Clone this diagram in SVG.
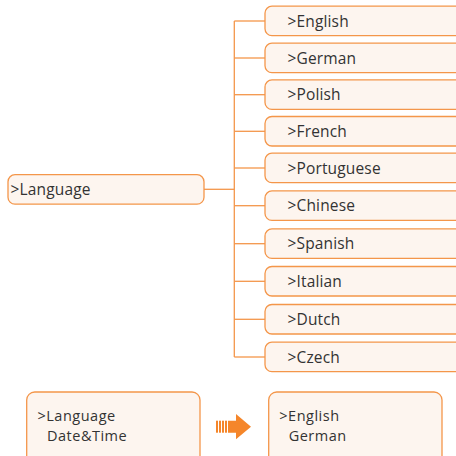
<svg xmlns="http://www.w3.org/2000/svg" width="456" height="456" viewBox="0 0 456 456">
<style>
.box{fill:#FDF5EF;stroke:#F4964A;stroke-width:1.3}
.t{font-family:"Open Sans","Liberation Sans",sans-serif;font-size:15.5px;letter-spacing:0.15px;fill:#333333}
.s{font-size:14.5px;letter-spacing:0.5px}
.ln{stroke:#F4964A;stroke-width:1.3;fill:none}
</style>
<g id="connectors">
<line class="ln" x1="204" y1="189.3" x2="234.3" y2="189.3"/>
<line class="ln" x1="234.3" y1="21" x2="234.3" y2="357"/>
<line class="ln" x1="234.3" y1="21" x2="265" y2="21"/>
<line class="ln" x1="234.3" y1="58" x2="265" y2="58"/>
<line class="ln" x1="234.3" y1="94.7" x2="265" y2="94.7"/>
<line class="ln" x1="234.3" y1="131.3" x2="265" y2="131.3"/>
<line class="ln" x1="234.3" y1="168" x2="265" y2="168"/>
<line class="ln" x1="234.3" y1="205.7" x2="265" y2="205.7"/>
<line class="ln" x1="234.3" y1="243.7" x2="265" y2="243.7"/>
<line class="ln" x1="234.3" y1="281.3" x2="265" y2="281.3"/>
<line class="ln" x1="234.3" y1="319.3" x2="265" y2="319.3"/>
<line class="ln" x1="234.3" y1="357" x2="265" y2="357"/>
</g>
<g id="language">
<rect class="box" x="8" y="174.7" width="196" height="29.5" rx="7"/>
<text class="t" x="10.5" y="195">&gt;Language</text>
</g>
<g id="english"><rect class="box" x="265" y="6.2" width="200" height="29.5" rx="7"/><text class="t" x="287.5" y="26.5">&gt;English</text></g>
<g id="german"><rect class="box" x="265" y="43.2" width="200" height="29.5" rx="7"/><text class="t" x="287.5" y="63.5">&gt;German</text></g>
<g id="polish"><rect class="box" x="265" y="79.9" width="200" height="29.5" rx="7"/><text class="t" x="287.5" y="100.2">&gt;Polish</text></g>
<g id="french"><rect class="box" x="265" y="116.5" width="200" height="29.5" rx="7"/><text class="t" x="287.5" y="136.8">&gt;French</text></g>
<g id="portuguese"><rect class="box" x="265" y="153.2" width="200" height="29.5" rx="7"/><text class="t" x="287.5" y="173.5">&gt;Portuguese</text></g>
<g id="chinese"><rect class="box" x="265" y="190.9" width="200" height="29.5" rx="7"/><text class="t" x="287.5" y="211.2">&gt;Chinese</text></g>
<g id="spanish"><rect class="box" x="265" y="228.9" width="200" height="29.5" rx="7"/><text class="t" x="287.5" y="249.2">&gt;Spanish</text></g>
<g id="italian"><rect class="box" x="265" y="266.5" width="200" height="29.5" rx="7"/><text class="t" x="287.5" y="286.8">&gt;Italian</text></g>
<g id="dutch"><rect class="box" x="265" y="304.5" width="200" height="29.5" rx="7"/><text class="t" x="287.5" y="324.8">&gt;Dutch</text></g>
<g id="czech"><rect class="box" x="265" y="342.2" width="200" height="29.5" rx="7"/><text class="t" x="287.5" y="362.5">&gt;Czech</text></g>
<g id="menu-screen">
<rect class="box" x="26.7" y="392" width="173.3" height="80" rx="8"/>
<text class="t s" x="37.5" y="420.6">&gt;Language</text>
<text class="t s" x="47" y="440.8">Date&amp;Time</text>
</g>
<g id="arrow" fill="#F5862A">
<rect x="216" y="420.7" width="2" height="12"/>
<rect x="219" y="420.7" width="2" height="12"/>
<rect x="222" y="420.7" width="2" height="12"/>
<rect x="225" y="420.7" width="2" height="12"/>
<polygon points="228,420.7 236,420.7 236,414 251,426.7 236,439.3 236,432.7 228,432.7"/>
</g>
<g id="language-screen">
<rect class="box" x="268.7" y="392" width="173.3" height="80" rx="8"/>
<text class="t s" x="279.3" y="420.6">&gt;English</text>
<text class="t s" x="288.7" y="440.8">German</text>
</g>
</svg>
